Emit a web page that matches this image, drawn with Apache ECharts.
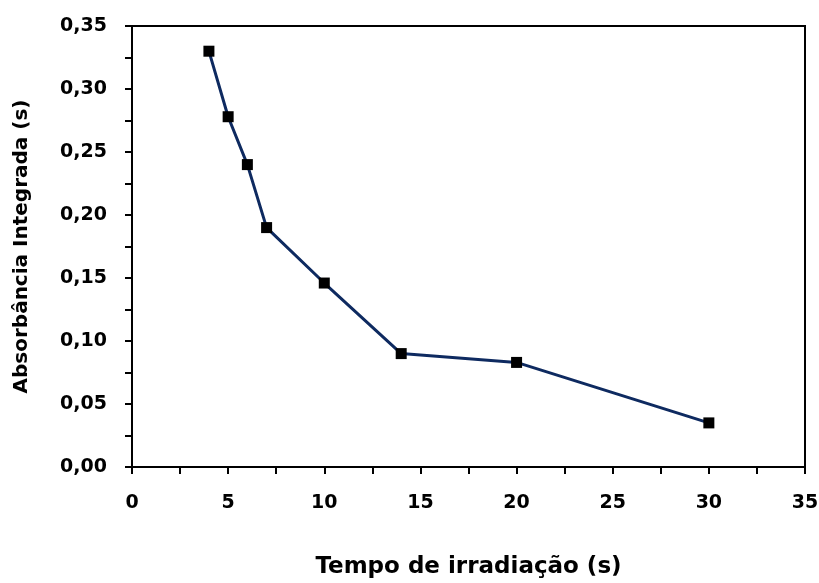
<!DOCTYPE html>
<html>
<head>
<meta charset="utf-8">
<script src="https://cdn.jsdelivr.net/npm/echarts@6/dist/echarts.min.js"></script>
<style>
  html, body { margin: 0; padding: 0; background: #fff; }
  #chart { width: 819px; height: 583px; }
</style>
</head>
<body>
<div id="chart"></div>
<script>
// Irradiation time (s) and integrated absorbance (s)
const tempo = [4, 5, 6, 7, 10, 14, 20, 30];
const absorbancia = [0.330, 0.278, 0.240, 0.190, 0.146, 0.090, 0.083, 0.035];

const xTitle = 'Tempo de irradiação (s)';
const yTitle = 'Absorbância Integrada (s)';

const FONT = '"DejaVu Sans", "Open Sans", sans-serif';

const chart = echarts.init(document.getElementById('chart'));
chart.setOption({
  animation: false,
  grid: {
    left: 132, right: 14, top: 26, bottom: 116,
    outerBoundsMode: 'none',
    show: true, borderColor: '#000', borderWidth: 2
  },
  xAxis: {
    type: 'value', min: 0, max: 35, interval: 2.5,
    name: xTitle, nameLocation: 'middle', nameGap: 89,
    nameTextStyle: { fontFamily: FONT, fontWeight: 'bold', fontSize: 23, color: '#000' },
    axisLine: { lineStyle: { color: '#000', width: 2 } },
    axisTick: { lineStyle: { color: '#000', width: 2 }, length: 7 },
    splitLine: { show: false },
    axisLabel: {
      fontFamily: FONT, fontWeight: 'bold', fontSize: 19, color: '#000', margin: 27,
      formatter: v => (Math.round(v * 10) % 50 === 0 ? String(v) : '')
    }
  },
  yAxis: {
    type: 'value', min: 0, max: 0.35, interval: 0.025,
    name: yTitle, nameLocation: 'middle', nameGap: 100, nameRotate: 90,
    nameTextStyle: { fontFamily: FONT, fontWeight: 'bold', fontSize: 20, color: '#000' },
    axisLine: { show: true, lineStyle: { color: '#000', width: 2 } },
    axisTick: { show: true, lineStyle: { color: '#000', width: 2 }, length: 7 },
    splitLine: { show: false },
    axisLabel: {
      fontFamily: FONT, fontWeight: 'bold', fontSize: 19, color: '#000', margin: 25,
      formatter: v => (Math.round(v * 1000) % 50 === 0 ? v.toFixed(2).replace('.', ',') : '')
    }
  },
  series: [{
    type: 'line',
    data: tempo.map((t, i) => [t, absorbancia[i]]),
    symbol: 'rect',
    symbolSize: 11,
    itemStyle: { color: '#000' },
    lineStyle: { color: '#0e2a60', width: 3 }
  }]
});
</script>
</body>
</html>
